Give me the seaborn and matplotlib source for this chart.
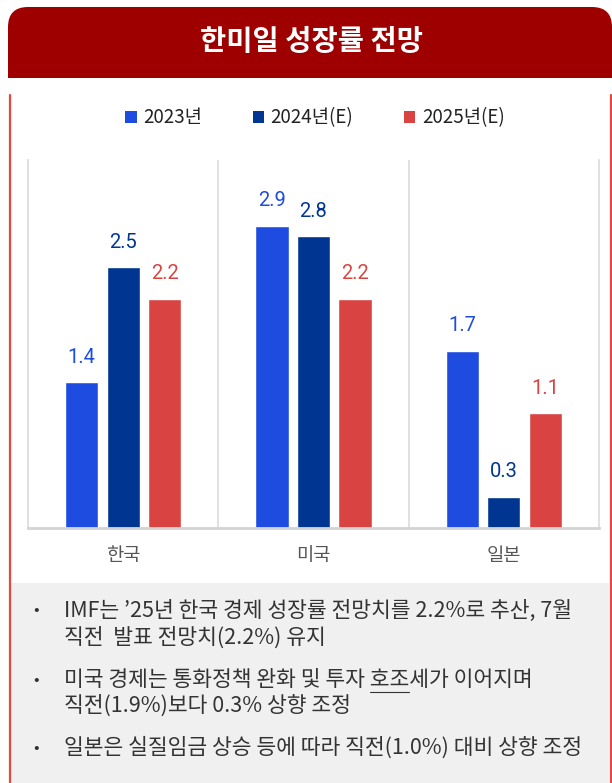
import matplotlib
matplotlib.use('Agg')
import matplotlib.pyplot as plt
import pandas as pd
import seaborn as sns
from matplotlib.lines import Line2D
from matplotlib.patches import FancyBboxPatch, Patch, Rectangle

countries = ['한국', '미국', '일본']
years = ['2023년', '2024년(E)', '2025년(E)']
growth_2023 = [1.4, 2.9, 1.7]
growth_2024 = [2.5, 2.8, 0.3]
growth_2025 = [2.2, 2.2, 1.1]
year_colors = ['#1f4ce0', '#003591', '#d94442']

title = '한미일 성장률 전망'
notes = [
    ['IMF는 ’25년 한국 경제 성장률 전망치를 2.2%로 추산, 7월', '직전  발표 전망치(2.2%) 유지'],
    ['미국 경제는 통화정책 완화 및 투자 호조세가 이어지며', '직전(1.9%)보다 0.3% 상향 조정'],
    ['일본은 실질임금 상승 등에 따라 직전(1.0%) 대비 상향 조정'],
]

sns.set_theme(style='white')
plt.rcParams['font.family'] = ['Noto Sans CJK KR', 'DejaVu Sans']

df = pd.DataFrame({
    'country': countries * 3,
    'year': [years[0]] * 3 + [years[1]] * 3 + [years[2]] * 3,
    'growth': growth_2023 + growth_2024 + growth_2025,
})
palette = dict(zip(years, year_colors))

W, H = 612, 783
fig = plt.figure(figsize=(W / 100, H / 100), dpi=100)
px = fig.dpi_scale_trans  # inches; helper below converts from top-left pixels


def P(x, y):
    return x / 100, (H - y) / 100


# header band with rounded top corners
x0, y0 = P(8, 78)
fig.patches.append(FancyBboxPatch((x0, y0 - 0.3), (W - 8) / 100, 0.3 + 0.71,
                                  boxstyle='round,pad=0,rounding_size=0.2',
                                  facecolor='#9e0000', edgecolor='none',
                                  transform=px, zorder=0))
fig.patches.append(Rectangle((0, y0 - 0.4), W / 100, 0.4, facecolor='white',
                             edgecolor='none', transform=px, zorder=1))
fig.text(311 / W, 1 - 42 / H, title, color='white', fontsize=20.5, fontweight='bold',
         ha='center', va='center')

# note box and red side rules
gx, gy = P(11, H)
fig.patches.append(Rectangle((gx, gy), (609 - 11) / 100, (H - 583) / 100,
                             facecolor='#f0f0f0', edgecolor='none', transform=px, zorder=1))
for lx in (9.5, 610.5):
    fig.lines.append(Line2D([lx / 100, lx / 100], [0, (H - 95) / 100], color='#e8473f',
                            lw=1.6, transform=px, zorder=2))

# chart
ax = fig.add_axes([28 / W, 1 - 528 / H, (599 - 28) / W, (528 - 160) / H])
sns.barplot(data=df, x='country', y='growth', hue='year', palette=palette,
            width=0.655, gap=0.2, saturation=1, legend=False, ax=ax)
ax.set_xlim(-0.5, 2.5)
ax.set_ylim(0, 3.53)
ax.set_xlabel('')
ax.set_ylabel('')
ax.set_yticks([])
ax.tick_params(axis='x', length=0, pad=12, labelsize=13.5, labelcolor='#555555')
for x in (0.5, 1.5):
    ax.axvline(x, color='#dddddd', lw=1.3, zorder=0)
ax.spines['top'].set_visible(False)
for s in ('left', 'right'):
    ax.spines[s].set_color('#dddddd')
    ax.spines[s].set_linewidth(1.3)
ax.spines['bottom'].set_color('#d4d4d4')
ax.spines['bottom'].set_linewidth(2)

for cont, c in zip(ax.containers, year_colors):
    ax.bar_label(cont, fmt='%.1f', padding=11, color=c, fontsize=14.5, family='Roboto')

handles = [Patch(facecolor=c, edgecolor='none') for c in year_colors]
fig.legend(handles, years, loc='center', bbox_to_anchor=(315 / W, 1 - 118 / H), ncol=3,
           frameon=False, fontsize=13.5, handlelength=0.6, handleheight=0.6,
           handletextpad=0.35, columnspacing=2.7, labelcolor='#222222')

# bullet notes
line_y = [[611, 638], [680, 706], [748]]
for lines, ys in zip(notes, line_y):
    fig.text(33 / W, 1 - ys[0] / H, '•', fontsize=12, color='#333333', va='center')
    for txt, y in zip(lines, ys):
        fig.text(64 / W, 1 - y / H, txt, fontsize=15.5, color='#333333', va='center')

# underline under "호조"
r = fig.canvas.get_renderer()
pre = fig.text(64 / W, 1 - 680 / H, '미국 경제는 통화정책 완화 및 투자 ', fontsize=15.5, va='center')
mid = fig.text(64 / W, 1 - 680 / H, '미국 경제는 통화정책 완화 및 투자 호조', fontsize=15.5, va='center')
xa = pre.get_window_extent(r).x1
xb = mid.get_window_extent(r).x1
pre.remove()
mid.remove()
fig.lines.append(Line2D([xa / W, xb / W], [1 - 692 / H, 1 - 692 / H], color='#333333',
                        lw=0.8, transform=fig.transFigure))

fig.savefig('out.png', dpi=100)
